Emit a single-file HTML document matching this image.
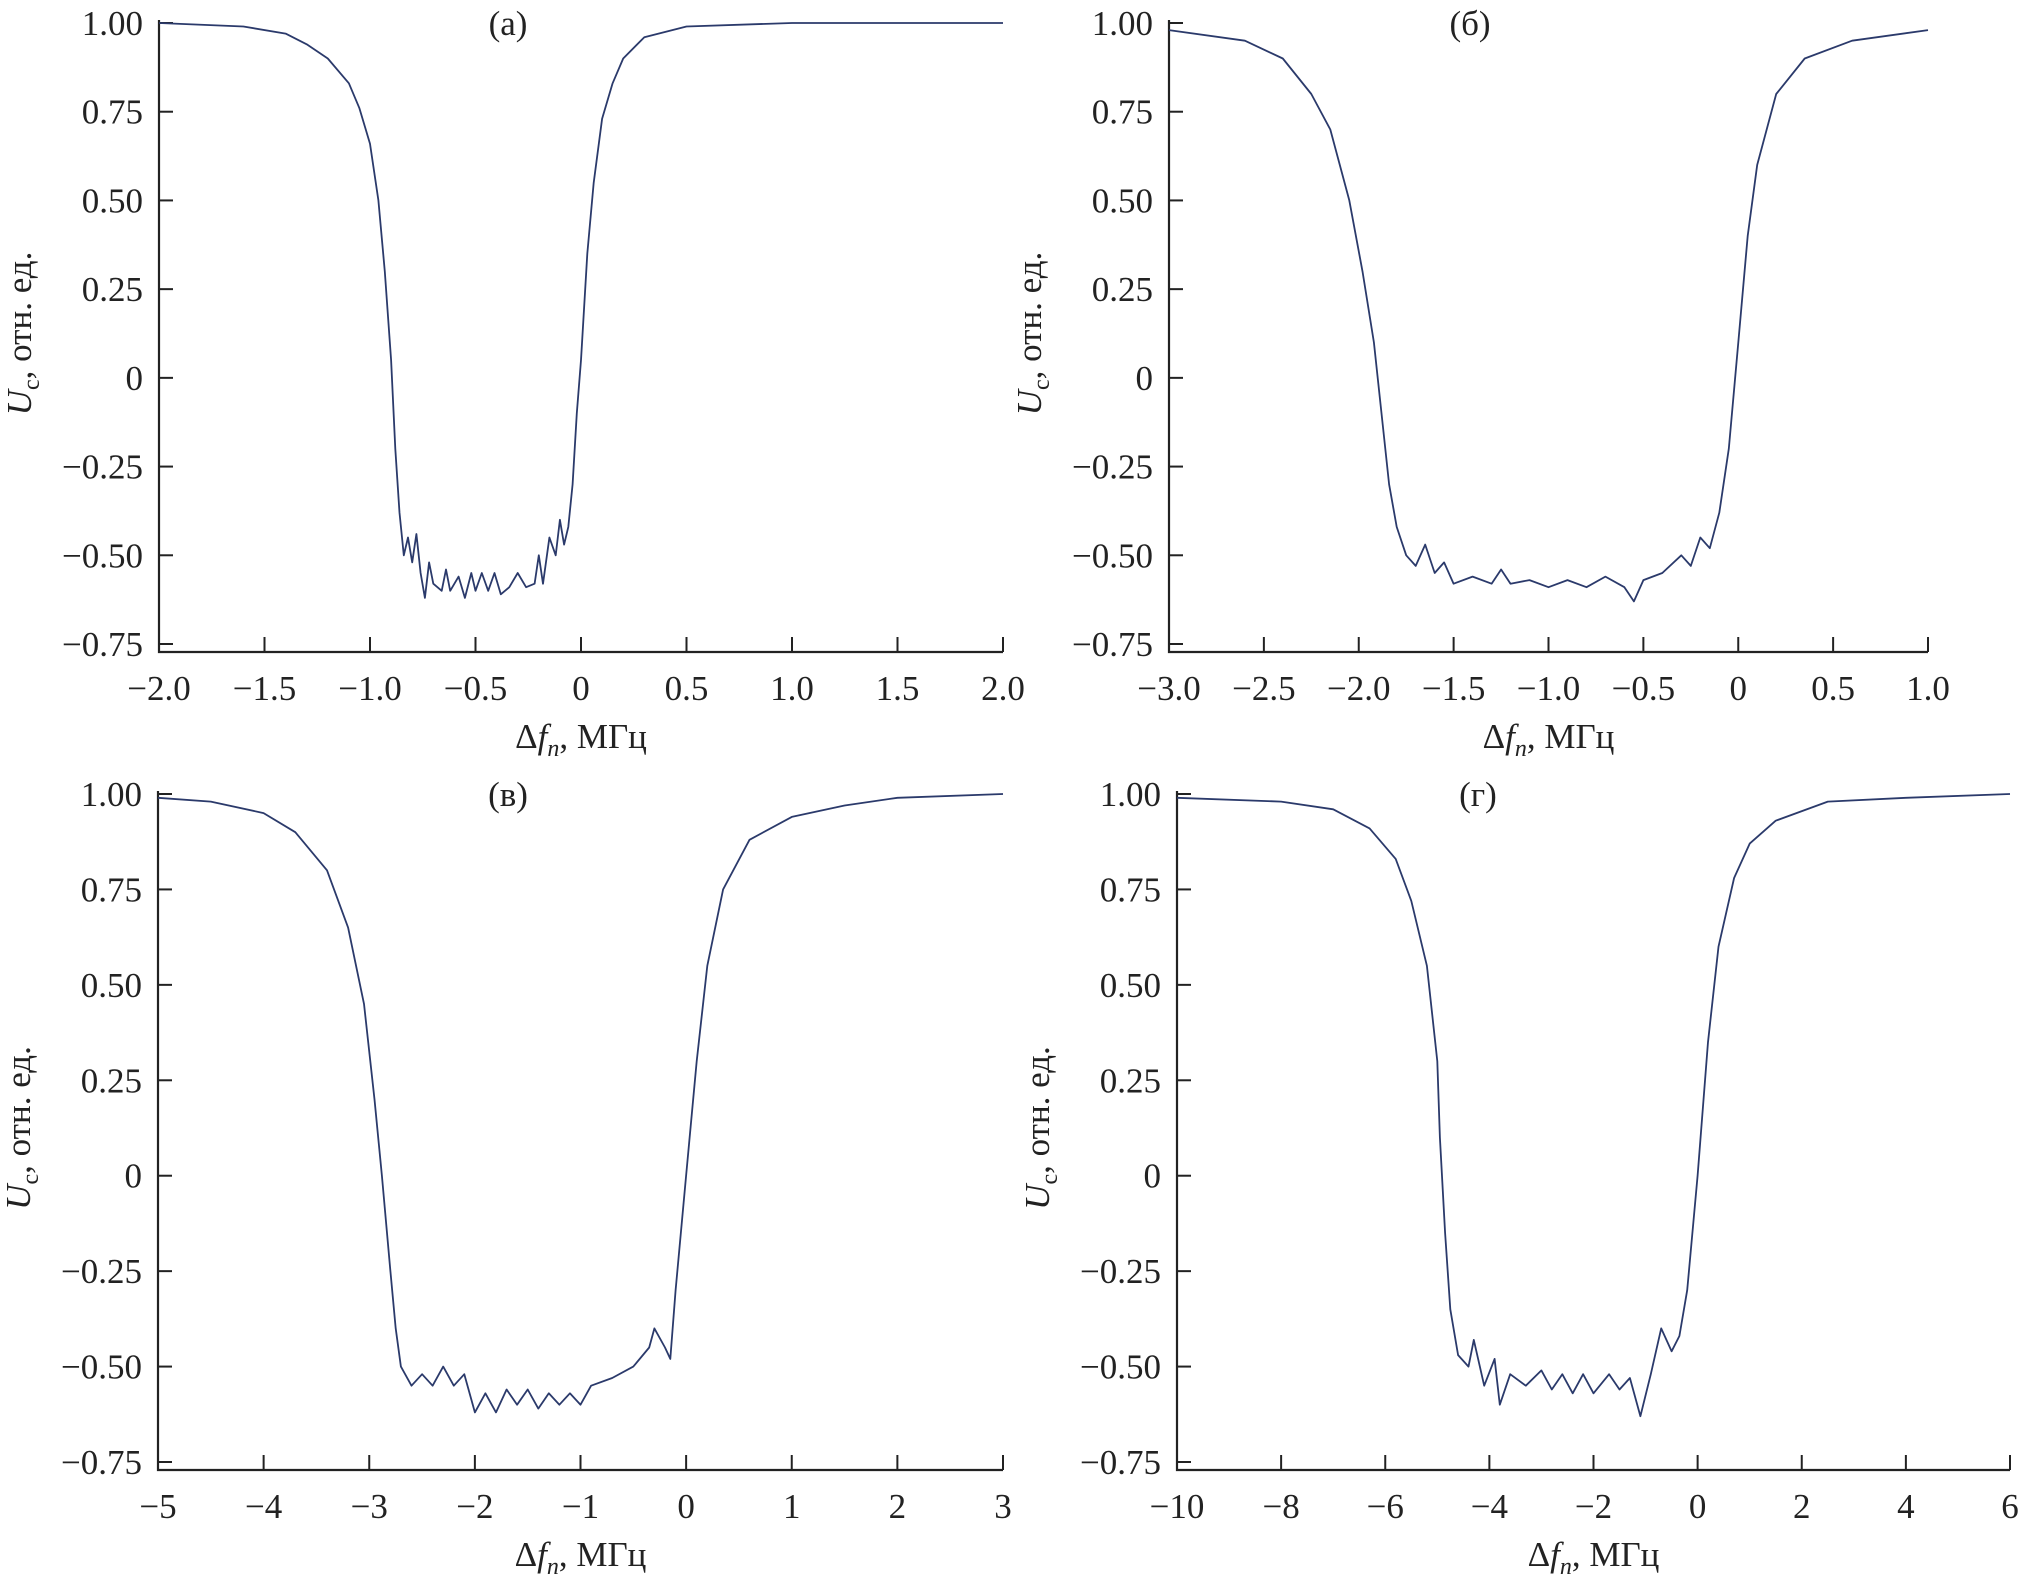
<!DOCTYPE html>
<html><head><meta charset="utf-8"><style>
html,body{margin:0;padding:0;background:#fff;}
svg{display:block;}
text{font-family:"Liberation Serif",serif;fill:#222;}
</style></head><body>
<svg id="fig" width="2018" height="1587" viewBox="0 0 2018 1587" xmlns="http://www.w3.org/2000/svg"></svg>
<script>
// Panel (a)
const xA=[-2,-1.6,-1.4,-1.3,-1.2,-1.1,-1.05,-1.0,-0.96,-0.93,-0.9,-0.88,-0.86,-0.84,-0.82,-0.80,-0.78,-0.76,-0.74,-0.72,-0.70,-0.66,-0.64,-0.62,-0.58,-0.55,-0.52,-0.5,-0.47,-0.44,-0.41,-0.38,-0.34,-0.30,-0.26,-0.22,-0.2,-0.18,-0.15,-0.12,-0.10,-0.08,-0.06,-0.04,-0.02,0.0,0.03,0.06,0.1,0.15,0.2,0.3,0.5,1.0,2.0];
const yA=[1.0,0.99,0.97,0.94,0.9,0.83,0.76,0.66,0.5,0.3,0.05,-0.2,-0.38,-0.5,-0.45,-0.52,-0.44,-0.55,-0.62,-0.52,-0.58,-0.6,-0.54,-0.6,-0.56,-0.62,-0.55,-0.6,-0.55,-0.6,-0.55,-0.61,-0.59,-0.55,-0.59,-0.58,-0.5,-0.58,-0.45,-0.5,-0.40,-0.47,-0.42,-0.3,-0.1,0.05,0.35,0.55,0.73,0.83,0.9,0.96,0.99,1.0,1.0];
// Panel (б)
const xB=[-3,-2.6,-2.4,-2.25,-2.15,-2.05,-1.98,-1.92,-1.88,-1.84,-1.8,-1.75,-1.7,-1.65,-1.6,-1.55,-1.5,-1.4,-1.3,-1.25,-1.2,-1.1,-1.0,-0.9,-0.8,-0.7,-0.6,-0.55,-0.5,-0.4,-0.3,-0.25,-0.2,-0.15,-0.1,-0.05,0,0.05,0.1,0.2,0.35,0.6,1.0];
const yB=[0.98,0.95,0.9,0.8,0.7,0.5,0.3,0.1,-0.1,-0.3,-0.42,-0.5,-0.53,-0.47,-0.55,-0.52,-0.58,-0.56,-0.58,-0.54,-0.58,-0.57,-0.59,-0.57,-0.59,-0.56,-0.59,-0.63,-0.57,-0.55,-0.5,-0.53,-0.45,-0.48,-0.38,-0.2,0.1,0.4,0.6,0.8,0.9,0.95,0.98];
// Panel (в)
const xC=[-5,-4.5,-4,-3.7,-3.4,-3.2,-3.05,-2.95,-2.88,-2.8,-2.75,-2.7,-2.6,-2.5,-2.4,-2.3,-2.2,-2.1,-2.0,-1.9,-1.8,-1.7,-1.6,-1.5,-1.4,-1.3,-1.2,-1.1,-1.0,-0.9,-0.7,-0.5,-0.35,-0.3,-0.2,-0.15,-0.1,0,0.1,0.2,0.35,0.6,1.0,1.5,2,3];
const yC=[0.99,0.98,0.95,0.9,0.8,0.65,0.45,0.2,0,-0.25,-0.4,-0.5,-0.55,-0.52,-0.55,-0.5,-0.55,-0.52,-0.62,-0.57,-0.62,-0.56,-0.6,-0.56,-0.61,-0.57,-0.6,-0.57,-0.6,-0.55,-0.53,-0.5,-0.45,-0.4,-0.45,-0.48,-0.3,0,0.3,0.55,0.75,0.88,0.94,0.97,0.99,1.0];
// Panel (г)
const xD=[-10,-8,-7,-6.3,-5.8,-5.5,-5.2,-5.0,-4.95,-4.85,-4.75,-4.6,-4.4,-4.3,-4.1,-3.9,-3.8,-3.6,-3.3,-3.0,-2.8,-2.6,-2.4,-2.2,-2.0,-1.7,-1.5,-1.3,-1.1,-0.9,-0.7,-0.5,-0.35,-0.2,0,0.2,0.4,0.7,1.0,1.5,2.5,4,6];
const yD=[0.99,0.98,0.96,0.91,0.83,0.72,0.55,0.3,0.1,-0.15,-0.35,-0.47,-0.5,-0.43,-0.55,-0.48,-0.6,-0.52,-0.55,-0.51,-0.56,-0.52,-0.57,-0.52,-0.57,-0.52,-0.56,-0.53,-0.63,-0.52,-0.4,-0.46,-0.42,-0.3,0,0.35,0.6,0.78,0.87,0.93,0.98,0.99,1.0];

const yTickVals=[1.0,0.75,0.5,0.25,0,-0.25,-0.5,-0.75];
const yTickLabels=["1.00","0.75","0.50","0.25","0","\u22120.25","\u22120.50","\u22120.75"];
const xTicksA=[-2,-1.5,-1,-0.5,0,0.5,1,1.5,2];
const xLabelsA=["\u22122.0","\u22121.5","\u22121.0","\u22120.5","0","0.5","1.0","1.5","2.0"];
const xTicksB=[-3,-2.5,-2,-1.5,-1,-0.5,0,0.5,1];
const xLabelsB=["\u22123.0","\u22122.5","\u22122.0","\u22121.5","\u22121.0","\u22120.5","0","0.5","1.0"];
const xTicksC=[-5,-4,-3,-2,-1,0,1,2,3];
const xLabelsC=["\u22125","\u22124","\u22123","\u22122","\u22121","0","1","2","3"];
const xTicksD=[-10,-8,-6,-4,-2,0,2,4,6];
const xLabelsD=["\u221210","\u22128","\u22126","\u22124","\u22122","0","2","4","6"];

const NS="http://www.w3.org/2000/svg";
const svg=document.getElementById('fig');
function mk(tag,attrs,parent){const e=document.createElementNS(NS,tag);for(const k in attrs)e.setAttribute(k,attrs[k]);(parent||svg).appendChild(e);return e;}

function panel(id,L,R,T,B,xmin,xmax,xs,ys,xt,xl,title,titleX){
  const g=mk('g',{});
  
  
  const axisY=B+8;
  const sx=v=>L+(v-xmin)/(xmax-xmin)*(R-L);
  const sy=v=>T+(1-v)/1.75*(B-T);
  const ax=mk('path',{d:`M${L},${T-3} L${L},${axisY} L${R},${axisY}`,fill:'none',stroke:'#222','stroke-width':2.2},g);
  
  
  yTickVals.forEach((v,i)=>{
    const y=sy(v);
    mk('line',{x1:L,x2:L+14,y1:y,y2:y,stroke:'#222','stroke-width':2},g);
    const t=mk('text',{x:L-16,y:y+12,'text-anchor':'end','font-size':35},g);
    t.textContent=yTickLabels[i];
    
    
  });
  xt.forEach((v,i)=>{
    const x=sx(v);
    mk('line',{x1:x,x2:x,y1:axisY,y2:axisY-15,stroke:'#222','stroke-width':2},g);
    const t=mk('text',{x:x,y:axisY+48,'text-anchor':'middle','font-size':35},g);
    t.textContent=xl[i];
    
    
  });
  let d='';
  xs.forEach((v,i)=>{d+=(i?'L':'M')+sx(v).toFixed(1)+','+sy(ys[i]).toFixed(1);});
  const p=mk('path',{d:d,fill:'none',stroke:'#2b3a6b','stroke-width':1.8,'stroke-linejoin':'round'},g);
  
  
  const xtl=mk('text',{x:(L+R)/2,y:axisY+96,'text-anchor':'middle','font-size':35},g);
  xtl.innerHTML='\u0394<tspan font-style="italic">f</tspan><tspan font-style="italic" font-size="24" dy="8">n</tspan><tspan dy="-8">, МГц</tspan>';
  
  
  const cy=(T+B)/2;
  const ytl=mk('text',{x:L-128,y:cy,'text-anchor':'middle','font-size':35,transform:`rotate(-90 ${L-128} ${cy})`},g);
  ytl.innerHTML='<tspan font-style="italic">U</tspan><tspan font-size="24" dy="8">c</tspan><tspan dy="-8">, отн. ед.</tspan>';
  
  
  const tt=mk('text',{x:titleX,y:T+12,'text-anchor':'middle','font-size':35},g);
  tt.textContent=title;
  
  
}
panel('a',159,1003,23,644,-2,2,xA,yA,xTicksA,xLabelsA,'(а)',508);
panel('b',1169,1928,23,644,-3,1,xB,yB,xTicksB,xLabelsB,'(б)',1470);
panel('c',158,1003,794,1462,-5,3,xC,yC,xTicksC,xLabelsC,'(в)',508);
panel('d',1177,2010,794,1462,-10,6,xD,yD,xTicksD,xLabelsD,'(г)',1478);
</script>
</body></html>
